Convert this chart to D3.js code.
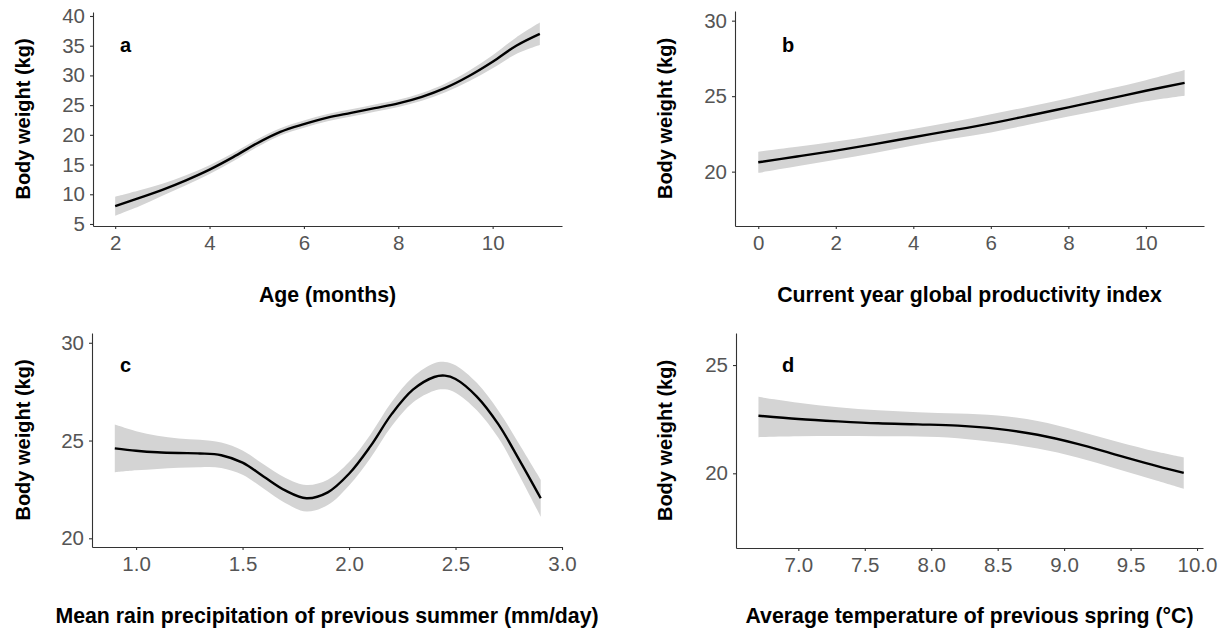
<!DOCTYPE html>
<html>
<head>
<meta charset="utf-8">
<script src="https://cdn.jsdelivr.net/npm/d3@7"></script>
<style>
  html, body { margin: 0; padding: 0; background: #ffffff; }
  svg { display: block; }
  text { font-family: "Liberation Sans", Arial, sans-serif; }
</style>
</head>
<body>
<svg id="chart" width="1228" height="631"></svg>
<script>
// ---------------- DATA ----------------
// Panel a: Age (months)
const ageX     = [2, 2.5, 3, 3.5, 4, 4.5, 5, 5.5, 6, 6.5, 7, 7.5, 8, 8.5, 9, 9.5, 10, 10.5, 11];
const ageFit   = [8.0, 9.35, 10.75, 12.35, 14.15, 16.25, 18.55, 20.5, 21.8, 22.9, 23.7, 24.5, 25.3, 26.4, 27.9, 29.9, 32.3, 35.0, 37.0];
const ageLower = [6.4, 7.95, 9.75, 11.5, 13.4, 15.55, 17.9, 19.9, 21.2, 22.3, 23.1, 23.9, 24.7, 25.75, 27.15, 29.0, 31.2, 33.6, 35.1];
const ageUpper = [9.6, 10.65, 11.75, 13.2, 14.9, 16.95, 19.2, 21.1, 22.4, 23.5, 24.3, 25.1, 25.9, 27.05, 28.65, 30.8, 33.4, 36.4, 38.9];
const ageTicks = [2, 4, 6, 8, 10];
const ageWeightTicks = [5, 10, 15, 20, 25, 30, 35, 40];

// Panel b: Current year global productivity index
const gpiX     = [0, 1, 2, 3, 4, 5, 6, 7, 8, 9, 10, 11];
const gpiFit   = [20.62, 21.0, 21.39, 21.82, 22.28, 22.73, 23.2, 23.72, 24.26, 24.8, 25.36, 25.88];
const gpiLower = [19.92, 20.35, 20.79, 21.24, 21.73, 22.18, 22.6, 23.12, 23.66, 24.15, 24.66, 25.03];
const gpiUpper = [21.32, 21.65, 21.99, 22.40, 22.83, 23.28, 23.8, 24.32, 24.86, 25.45, 26.06, 26.73];
const gpiTicks = [0, 2, 4, 6, 8, 10];
const gpiWeightTicks = [20, 25, 30];

// Panel c: Mean rain precipitation of previous summer (mm/day)
const rainX     = [0.9, 1.0, 1.1, 1.2, 1.3, 1.4, 1.5, 1.6, 1.7, 1.8, 1.9, 2.0, 2.1, 2.2, 2.3, 2.4, 2.45, 2.5, 2.6, 2.7, 2.8, 2.9];
const rainFit   = [24.6, 24.48, 24.4, 24.36, 24.34, 24.25, 23.87, 23.15, 22.45, 22.05, 22.35, 23.3, 24.7, 26.35, 27.6, 28.25, 28.32, 28.15, 27.25, 25.85, 24.0, 22.05];
const rainLower = [23.38, 23.48, 23.55, 23.61, 23.64, 23.6, 23.25, 22.53, 21.8, 21.37, 21.7, 22.7, 24.1, 25.73, 26.95, 27.55, 27.62, 27.45, 26.55, 25.15, 23.2, 21.1];
const rainUpper = [25.82, 25.48, 25.25, 25.11, 25.04, 24.9, 24.49, 23.77, 23.1, 22.73, 23.0, 23.9, 25.3, 26.97, 28.25, 28.95, 29.02, 28.85, 27.95, 26.55, 24.8, 23.0];
const rainTicks = [1.0, 1.5, 2.0, 2.5, 3.0];
const rainWeightTicks = [20, 25, 30];

// Panel d: Average temperature of previous spring (°C)
const tempX     = [6.7, 7.0, 7.3, 7.6, 7.9, 8.2, 8.5, 8.8, 9.1, 9.4, 9.7, 9.9];
const tempFit   = [22.66, 22.51, 22.40, 22.31, 22.26, 22.2, 22.05, 21.78, 21.36, 20.84, 20.33, 20.02];
const tempLower = [21.67, 21.71, 21.72, 21.71, 21.70, 21.62, 21.42, 21.14, 20.73, 20.2, 19.66, 19.29];
const tempUpper = [23.53, 23.26, 23.05, 22.91, 22.82, 22.76, 22.67, 22.42, 21.97, 21.46, 20.99, 20.73];
const tempTicks = [7.0, 7.5, 8.0, 8.5, 9.0, 9.5, 10.0];
const tempWeightTicks = [20, 25];

const yTitle = "Body weight (kg)";

// ---------------- LAYOUT ----------------
const panels = [
  { tag: "a", title: "Age (months)", x: ageX, fit: ageFit, lo: ageLower, hi: ageUpper,
    xt: ageTicks, yt: ageWeightTicks, fmt: d3.format("d"),
    box: { l: 93, r: 562, t: 12, b: 226 }, xd: [1.53, 11.47], yd: [4.66, 40.67],
    ytx: 30, xtb: 302, tagX: 120, tagY: 52 },
  { tag: "b", title: "Current year global productivity index", x: gpiX, fit: gpiFit, lo: gpiLower, hi: gpiUpper,
    xt: gpiTicks, yt: gpiWeightTicks, fmt: d3.format("d"),
    box: { l: 735, r: 1204, t: 11, b: 226 }, xd: [-0.6, 11.5], yd: [16.4, 30.64],
    ytx: 672, xtb: 302, tagX: 782, tagY: 52 },
  { tag: "c", title: "Mean rain precipitation of previous summer (mm/day)", x: rainX, fit: rainFit, lo: rainLower, hi: rainUpper,
    xt: rainTicks, yt: rainWeightTicks, fmt: d3.format(".1f"),
    box: { l: 92, r: 562, t: 333, b: 547 }, xd: [0.793, 3.0], yd: [19.555, 30.5],
    ytx: 30, xtb: 623, tagX: 120, tagY: 372 },
  { tag: "d", title: "Average temperature of previous spring (°C)", x: tempX, fit: tempFit, lo: tempLower, hi: tempUpper,
    xt: tempTicks, yt: tempWeightTicks, fmt: d3.format(".1f"),
    box: { l: 736, r: 1203, t: 333, b: 548 }, xd: [6.531, 10.045], yd: [16.55, 26.48],
    ytx: 672, xtb: 623, tagX: 782, tagY: 372 }
];

const svg = d3.select("#chart");
svg.append("rect").attr("width", 1228).attr("height", 631).attr("fill", "#ffffff");

panels.forEach(p => {
  const xs = d3.scaleLinear().domain(p.xd).range([p.box.l, p.box.r]);
  const ys = d3.scaleLinear().domain(p.yd).range([p.box.b, p.box.t]);
  const g = svg.append("g");

  const idx = d3.range(p.x.length);
  const curve = d3.curveCatmullRom.alpha(0.5);
  const area = d3.area()
    .x(i => xs(p.x[i]))
    .y0(i => ys(p.lo[i]))
    .y1(i => ys(p.hi[i]))
    .curve(curve);
  const line = d3.line()
    .x(i => xs(p.x[i]))
    .y(i => ys(p.fit[i]))
    .curve(curve);

  g.append("path").attr("d", area(idx)).attr("fill", "#d4d4d4").attr("stroke", "none");
  g.append("path").attr("d", line(idx)).attr("fill", "none").attr("stroke", "#000000")
    .attr("stroke-width", 2.4).attr("stroke-linejoin", "round");

  // axes
  const xAxis = d3.axisBottom(xs).tickValues(p.xt).tickFormat(p.fmt).tickSize(3).tickSizeOuter(0).tickPadding(6);
  const yAxis = d3.axisLeft(ys).tickValues(p.yt).tickFormat(d3.format("d")).tickSize(3).tickSizeOuter(0).tickPadding(5);

  const gx = g.append("g").attr("transform", `translate(0,${p.box.b})`).call(xAxis);
  const gy = g.append("g").attr("transform", `translate(${p.box.l},0)`).call(yAxis);
  [gx, gy].forEach(a => {
    a.select(".domain").attr("stroke", "#333333").attr("stroke-width", 1.1);
    a.selectAll(".tick line").attr("stroke", "#333333").attr("stroke-width", 1.1);
    a.selectAll(".tick text").attr("fill", "#555555").style("font-size", "20.5px")
      .style("font-family", "'Liberation Sans', Arial, sans-serif");
  });
  gx.selectAll(".tick text").attr("dy", "0.75em");

  // axis titles
  g.append("text")
    .attr("x", (p.box.l + p.box.r) / 2).attr("y", p.xtb)
    .attr("text-anchor", "middle").attr("font-size", 21.3).attr("font-weight", "bold").attr("fill", "#000")
    .text(p.title);
  g.append("text")
    .attr("transform", `translate(${p.ytx},${(p.box.t + p.box.b) / 2}) rotate(-90)`)
    .attr("text-anchor", "middle").attr("font-size", 20).attr("font-weight", "bold").attr("fill", "#000")
    .text(yTitle);

  // panel tag
  g.append("text").attr("x", p.tagX).attr("y", p.tagY)
    .attr("font-size", 20).attr("font-weight", "bold").attr("fill", "#000")
    .text(p.tag);
});
</script>
</body>
</html>
